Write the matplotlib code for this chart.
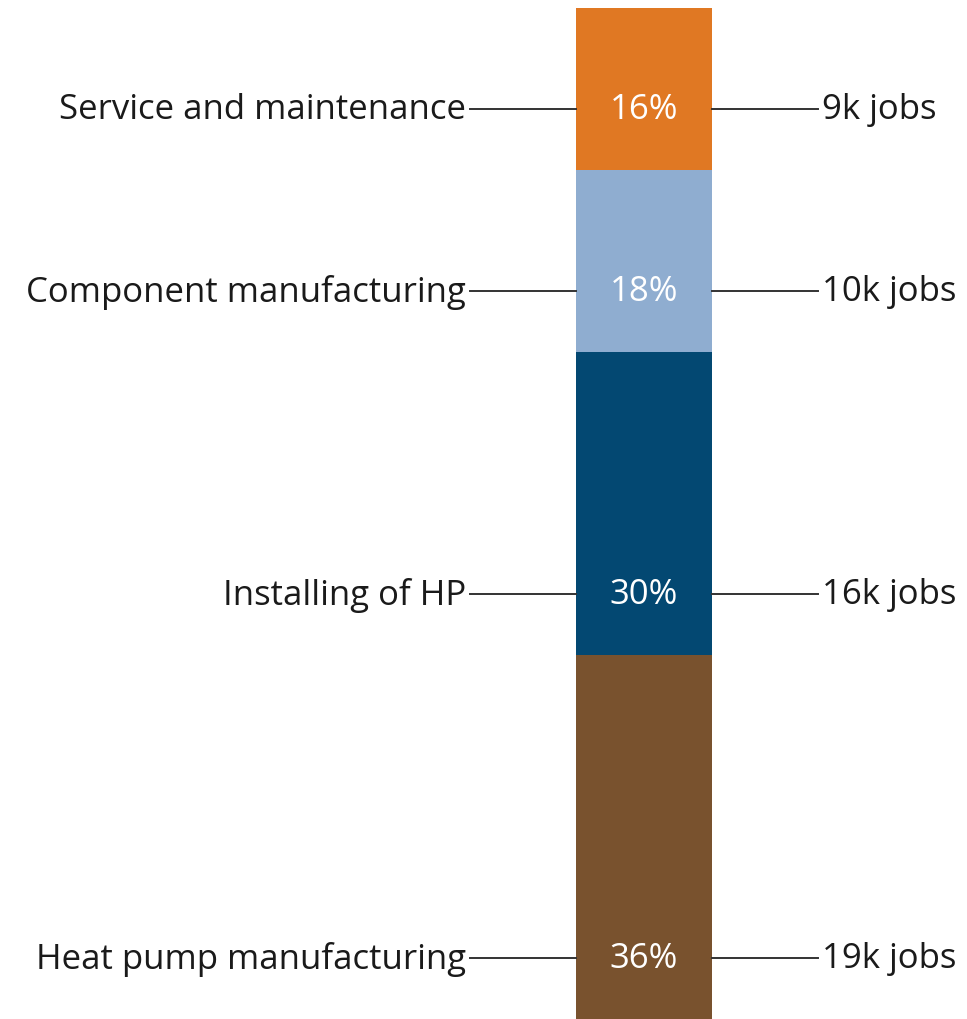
import matplotlib.pyplot as plt

categories = ["Heat pump manufacturing", "Installing of HP",
              "Component manufacturing", "Service and maintenance"]
shares = [36, 30, 18, 16]
jobs_k = [19, 16, 10, 9]
colors = ["#79522e", "#034872", "#8fadd0", "#e07823"]

plt.rcParams["font.family"] = ["Open Sans", "DejaVu Sans"]

fig = plt.figure(figsize=(9.67, 10.2), dpi=100)
ax = fig.add_axes([0, 0, 1, 1])
ax.set_xlim(0, 967)
ax.set_ylim(0, 100 * 1020 / 1011)
ax.axis("off")

bar_x, bar_w = 644, 136
label_offset = 6
bottom = 0
for cat, share, jobs, color in zip(categories, shares, jobs_k, colors):
    ax.bar(bar_x, share, bottom=bottom, width=bar_w, color=color, linewidth=0)
    y = bottom + label_offset
    ax.plot([470, bar_x - bar_w / 2], [y, y], color="#333333", lw=1.4)
    ax.plot([bar_x + bar_w / 2, 818], [y, y], color="#333333", lw=1.4)
    ax.text(466, y, cat, ha="right", va="center", fontsize=25, color="#1a1a1a")
    ax.text(822, y, f"{jobs}k jobs", ha="left", va="center", fontsize=25, color="#1a1a1a")
    ax.text(bar_x, y, f"{share}%", ha="center", va="center", fontsize=25, color="white")
    bottom += share

fig.savefig("out.png", dpi=100)
